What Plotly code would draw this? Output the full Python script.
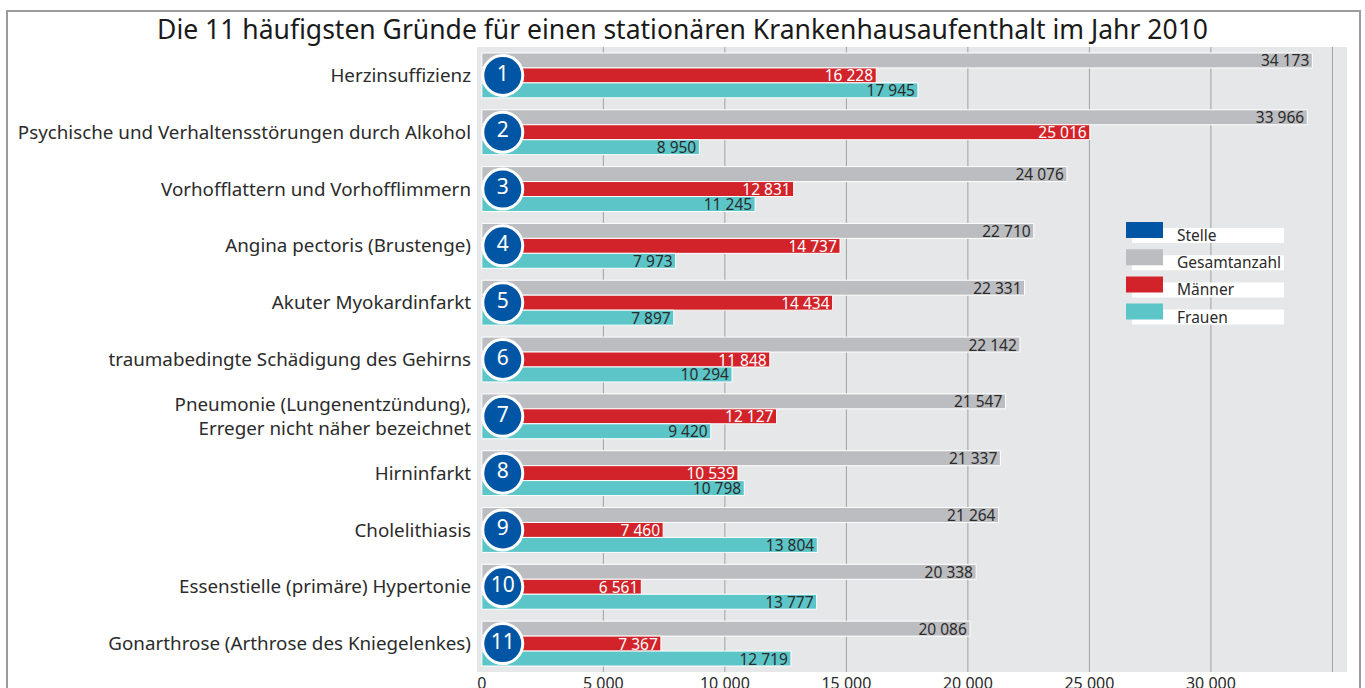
import plotly.graph_objects as go

# data
categories = [
    'Herzinsuffizienz',
    'Psychische und Verhaltensstörungen durch Alkohol',
    'Vorhofflattern und Vorhofflimmern',
    'Angina pectoris (Brustenge)',
    'Akuter Myokardinfarkt',
    'traumabedingte Schädigung des Gehirns',
    'Pneumonie (Lungenentzündung),<br>Erreger nicht näher bezeichnet',
    'Hirninfarkt',
    'Cholelithiasis',
    'Essenstielle (primäre) Hypertonie',
    'Gonarthrose (Arthrose des Kniegelenkes)',
]
rank = [1, 2, 3, 4, 5, 6, 7, 8, 9, 10, 11]
gesamt = [34173, 33966, 24076, 22710, 22331, 22142, 21547, 21337, 21264, 20338, 20086]
maenner = [16228, 25016, 12831, 14737, 14434, 11848, 12127, 10539, 7460, 6561, 7367]
frauen = [17945, 8950, 11245, 7973, 7897, 10294, 9420, 10798, 13804, 13777, 12719]
legend_labels = ['Stelle', 'Gesamtanzahl', 'Männer', 'Frauen']
x_ticks = [0, 5000, 10000, 15000, 20000, 25000, 30000]
x_grid = [5000, 10000, 15000, 20000, 25000, 30000, 35000]

BLUE = '#0055a4'
GREY = '#bcbdc0'
RED = '#d2232a'
TEAL = '#5bc5c8'
BG = '#e6e7e9'
TXT = '#2b2b2b'
FONT = 'Noto Sans'

W, H = 1365, 688
L, R, T, B = 477, 1347, 47, 672   # plot area in page pixels


def px_x(x):
    return (x - L) / (R - L)


def px_y(y):
    return (B - y) / (B - T)


def fmt(v):
    return f'{v:,}'.replace(',', ' ')


fig = go.Figure()

bar_specs = [(gesamt, GREY, TXT), (maenner, RED, 'white'), (frauen, TEAL, TXT)]
for vals, color, tcol in bar_specs:
    fig.add_trace(go.Bar(
        y=categories, x=vals, orientation='h',
        marker=dict(color=color, line=dict(color='white', width=1)),
        text=[fmt(v) for v in vals], textposition='inside',
        insidetextanchor='end', constraintext='none', cliponaxis=False,
        textfont=dict(family=FONT, size=15.5, color=tcol),
        showlegend=False, hoverinfo='x+y',
    ))

# rank badges
badge_x = 860
fig.add_trace(go.Scatter(
    y=categories, x=[badge_x] * len(categories), mode='markers+text',
    marker=dict(size=40, color=BLUE, line=dict(color='white', width=3)),
    text=[str(r) for r in rank], textposition='middle center',
    textfont=dict(family=FONT, size=21, color='white'),
    showlegend=False, hoverinfo='skip', cliponaxis=False,
))

shapes = []
annotations = []

# gridlines (no line at 0)
for g in x_grid:
    shapes.append(dict(type='line', xref='x', yref='paper', layer='below',
                       x0=g, x1=g, y0=0, y1=1, line=dict(color='#a0a0a0', width=1)))

# custom legend
legend_colors = [BLUE, GREY, RED, TEAL]
for i, (lab, col) in enumerate(zip(legend_labels, legend_colors)):
    yc = 230 + i * 27.2
    shapes.append(dict(type='rect', xref='paper', yref='paper', layer='above',
                       x0=px_x(1132), x1=px_x(1284), y0=px_y(yc + 13), y1=px_y(yc - 2),
                       fillcolor='white', line=dict(width=0)))
    shapes.append(dict(type='rect', xref='paper', yref='paper', layer='above',
                       x0=px_x(1126), x1=px_x(1163), y0=px_y(yc + 8), y1=px_y(yc - 8),
                       fillcolor=col, line=dict(width=0)))
    annotations.append(dict(xref='paper', yref='paper', x=px_x(1175), y=px_y(yc + 5),
                            text=lab, showarrow=False, xanchor='left', yanchor='middle',
                            font=dict(family=FONT, size=15.5, color=TXT)))

# outer frame
shapes.append(dict(type='rect', xref='paper', yref='paper', layer='above',
                   x0=px_x(7), x1=px_x(1360), y0=px_y(720), y1=px_y(11),
                   line=dict(color='#9b9b9b', width=2), fillcolor='rgba(0,0,0,0)'))

fig.update_layout(
    width=W, height=H,
    margin=dict(l=L, r=W - R, t=T, b=H - B, pad=0),
    paper_bgcolor='white', plot_bgcolor=BG,
    barmode='group', bargap=0.21, bargroupgap=0.0,
    separators=', ',
    font=dict(family=FONT, color=TXT),
    title=dict(text='Die 11 häufigsten Gründe für einen stationären Krankenhausaufenthalt im Jahr 2010',
               x=0.5, xanchor='center', y=1 - 30 / H, yanchor='middle',
               font=dict(family=FONT, size=26.5, color='#1a1a1a')),
    shapes=shapes, annotations=annotations,
)
fig.update_xaxes(range=[-200, 35600], tickvals=x_ticks, tickformat=',d',
                 showgrid=False, zeroline=False, showline=False, ticks='',
                 automargin=False, tickfont=dict(family=FONT, size=16, color=TXT))
fig.update_yaxes(range=[10.5, -0.5], showgrid=False, zeroline=False, ticks='',
                 automargin=False, ticklabelstandoff=5,
                 tickfont=dict(family=FONT, size=18.8, color=TXT))

# drop the default page margin so the figure sits at the window's corner
fig.write_html('out.html', config={'displayModeBar': False},
               post_script="document.body.style.margin='0';")
